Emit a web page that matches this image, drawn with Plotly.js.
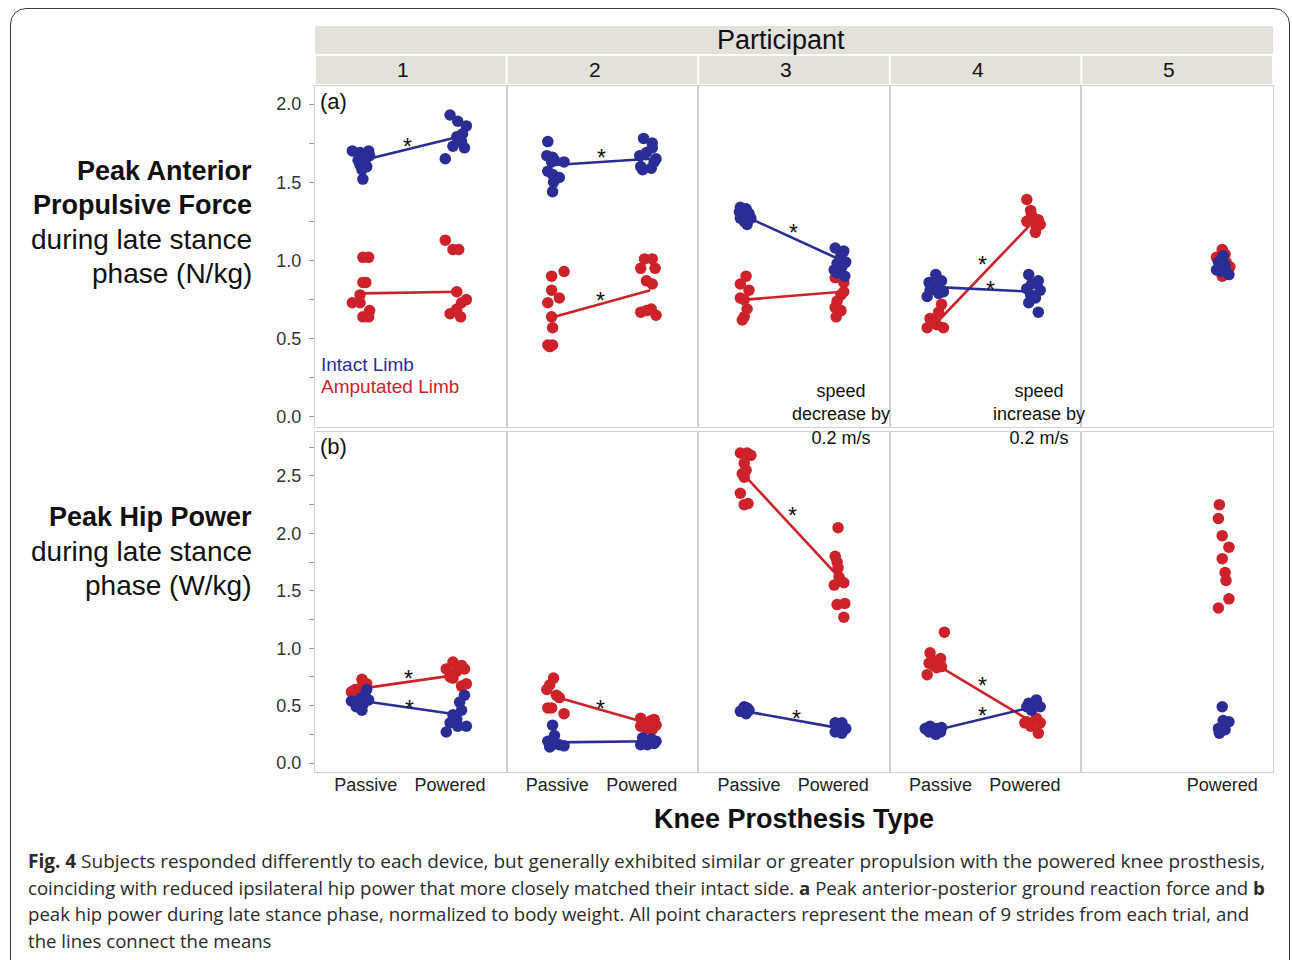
<!DOCTYPE html>
<html>
<head>
<meta charset="utf-8">
<script src="https://cdn.plot.ly/plotly-3.0.1.min.js"></script>
<style>
  html, body { margin: 0; padding: 0; background: #ffffff; }
  #wrap { position: relative; width: 1292px; height: 960px; overflow: hidden; }
  #chart { position: absolute; left: 0; top: 0; width: 1292px; height: 960px; }
  #frame { position: absolute; left: 10px; top: 8px; width: 1280px; height: 1000px;
           border: 1.5px solid #3a3a3a; border-radius: 16px; pointer-events: none; box-sizing: border-box; }
</style>
</head>
<body>
<div id="wrap">
  <div id="chart"></div>
  <div id="frame"></div>
</div>
<script>
// ---------------- DATA ----------------
const participants = ['1', '2', '3', '4', '5'];
const conditions = ['Passive', 'Powered'];

// (a) Peak anterior propulsive force (N/kg), one value per trial, per participant
const forceIntactPassive = [
  [1.70, 1.69, 1.70, 1.67, 1.67, 1.64, 1.63, 1.61, 1.60, 1.58, 1.52],
  [1.76, 1.67, 1.66, 1.64, 1.63, 1.63, 1.57, 1.55, 1.53, 1.50, 1.44],
  [1.34, 1.33, 1.31, 1.30, 1.28, 1.27, 1.25, 1.23, 1.27],
  [0.91, 0.86, 0.87, 0.84, 0.81, 0.80, 0.77, 0.79],
  []
];
const forceIntactPowered = [
  [1.93, 1.89, 1.86, 1.81, 1.79, 1.76, 1.73, 1.72, 1.65],
  [1.78, 1.75, 1.72, 1.69, 1.67, 1.65, 1.63, 1.60, 1.59, 1.58],
  [1.08, 1.06, 1.03, 0.99, 0.98, 0.96, 0.94, 0.92, 0.90],
  [0.91, 0.87, 0.85, 0.82, 0.81, 0.78, 0.76, 0.73, 0.67],
  [1.03, 0.99, 0.97, 0.94, 0.93, 0.91, 0.94, 0.98]
];
const forceAmpPassive = [
  [1.02, 1.02, 0.86, 0.86, 0.78, 0.73, 0.73, 0.68, 0.64, 0.64],
  [0.93, 0.90, 0.81, 0.76, 0.73, 0.64, 0.57, 0.46, 0.46, 0.45],
  [0.90, 0.85, 0.81, 0.76, 0.75, 0.69, 0.64, 0.62],
  [0.72, 0.67, 0.63, 0.61, 0.57, 0.57, 0.59, 0.60],
  []
];
const forceAmpPowered = [
  [1.13, 1.07, 1.07, 0.75, 0.73, 0.69, 0.66, 0.64, 0.80],
  [1.01, 1.01, 0.95, 0.95, 0.87, 0.85, 0.67, 0.69, 0.65, 0.68],
  [0.89, 0.86, 0.80, 0.78, 0.74, 0.70, 0.68, 0.64],
  [1.39, 1.32, 1.29, 1.26, 1.25, 1.21, 1.18, 1.23],
  [1.07, 1.04, 1.02, 0.99, 0.96, 0.94, 0.92, 0.90]
];
// means connected by lines [Passive, Powered]
const forceMeanIntact = [[1.64, 1.79], [1.61, 1.65], [1.28, 1.00], [0.83, 0.80], null];
const forceMeanAmp    = [[0.79, 0.80], [0.64, 0.81], [0.75, 0.80], [0.61, 1.25], null];

// (b) Peak hip power (W/kg)
const hipIntactPassive = [
  [0.64, 0.54, 0.56, 0.51, 0.55, 0.46, 0.49, 0.59],
  [0.33, 0.24, 0.19, 0.16, 0.16, 0.15, 0.14],
  [0.49, 0.46, 0.45, 0.43, 0.48, 0.46],
  [0.32, 0.30, 0.27, 0.25, 0.27, 0.30, 0.31],
  []
];
const hipIntactPowered = [
  [0.59, 0.53, 0.46, 0.42, 0.38, 0.35, 0.32, 0.32, 0.27],
  [0.22, 0.21, 0.19, 0.16, 0.16, 0.17],
  [0.35, 0.35, 0.30, 0.30, 0.27, 0.26],
  [0.55, 0.52, 0.49, 0.46, 0.49, 0.51],
  [0.49, 0.37, 0.36, 0.30, 0.29, 0.26, 0.28]
];
const hipAmpPassive = [
  [0.73, 0.64, 0.68, 0.65, 0.69, 0.62, 0.62],
  [0.74, 0.68, 0.64, 0.59, 0.57, 0.48, 0.48, 0.43],
  [2.70, 2.70, 2.68, 2.61, 2.55, 2.52, 2.49, 2.35, 2.25, 2.26],
  [1.14, 0.96, 0.91, 0.87, 0.85, 0.83, 0.77, 0.84, 0.90],
  []
];
const hipAmpPowered = [
  [0.88, 0.85, 0.82, 0.82, 0.80, 0.74, 0.69, 0.67, 0.75],
  [0.39, 0.37, 0.33, 0.35, 0.30, 0.29, 0.32, 0.38],
  [2.05, 1.80, 1.75, 1.70, 1.62, 1.55, 1.57, 1.38, 1.39, 1.27],
  [0.36, 0.39, 0.33, 0.32, 0.26, 0.35, 0.35],
  [2.25, 2.13, 1.98, 1.88, 1.78, 1.66, 1.59, 1.43, 1.35]
];
const hipMeanIntact = [[0.54, 0.42], [0.18, 0.19], [0.45, 0.30], [0.29, 0.49], null];
const hipMeanAmp    = [[0.65, 0.77], [0.58, 0.34], [2.49, 1.59], [0.85, 0.35], null];

// horizontal jitter of each point (category units)
const jitForceIntactPassive = [
  [-0.11, -0.03, 0.06, 0.00, 0.07, -0.05, 0.02, -0.03, 0.04, -0.01, 0.00],
  [-0.07, -0.08, -0.02, 0.00, -0.03, 0.10, -0.07, -0.02, 0.05, -0.01, -0.02],
  [-0.06, 0.00, -0.07, 0.03, -0.04, 0.05, -0.02, 0.01, -0.06],
  [-0.02, -0.09, 0.04, -0.01, -0.08, 0.06, -0.11, 0.01],
  []
];
const jitForceIntactPowered = [
  [-0.09, -0.01, 0.08, 0.04, -0.02, 0.03, -0.06, 0.06, -0.14],
  [-0.07, 0.02, 0.02, -0.04, -0.11, 0.06, 0.04, -0.10, 0.01, -0.08],
  [-0.07, 0.02, -0.01, 0.04, -0.05, 0.00, -0.08, -0.05, 0.03],
  [-0.05, 0.05, -0.02, -0.07, 0.07, -0.03, 0.02, -0.05, 0.05],
  [-0.02, -0.07, 0.00, -0.09, -0.04, 0.04, 0.00, -0.05]
];
const jitForceAmpPassive = [
  [0.00, 0.06, 0.00, 0.03, -0.03, -0.11, -0.03, 0.07, 0.00, 0.06],
  [0.10, -0.03, -0.03, 0.05, -0.07, -0.03, -0.02, -0.07, -0.02, -0.05],
  [0.00, -0.06, 0.03, -0.06, -0.02, 0.01, -0.02, -0.04],
  [0.04, 0.01, -0.08, -0.04, -0.11, 0.06, -0.01, -0.06],
  []
];
const jitForceAmpPowered = [
  [-0.14, -0.06, 0.00, 0.08, 0.03, -0.02, -0.09, 0.02, -0.02],
  [-0.06, 0.02, -0.10, 0.05, -0.04, 0.02, -0.10, 0.01, 0.06, -0.04],
  [-0.07, 0.02, 0.02, -0.01, -0.05, -0.07, -0.01, -0.06],
  [-0.07, -0.03, -0.02, 0.05, -0.07, 0.03, 0.02, 0.07],
  [-0.03, 0.00, -0.09, 0.01, 0.05, -0.06, 0.03, -0.03]
];
const jitHipIntactPassive = [
  [0.04, -0.12, -0.03, 0.00, 0.06, -0.01, -0.07, 0.02],
  [-0.02, 0.00, -0.07, -0.02, 0.05, 0.10, -0.05],
  [-0.02, 0.03, -0.06, 0.00, 0.01, -0.04],
  [-0.08, -0.01, -0.09, -0.02, 0.03, -0.13, 0.04],
  []
];
const jitHipIntactPowered = [
  [0.06, 0.01, 0.03, -0.06, -0.02, -0.09, 0.08, -0.01, -0.13],
  [-0.08, 0.01, 0.06, -0.10, -0.03, 0.04],
  [-0.07, 0.00, -0.03, 0.04, -0.07, 0.00],
  [0.03, -0.05, 0.07, -0.02, -0.07, 0.02],
  [-0.03, -0.02, 0.04, -0.07, 0.00, -0.06, -0.04]
];
const jitHipAmpPassive = [
  [-0.01, -0.08, 0.00, -0.03, 0.04, -0.12, 0.02],
  [-0.01, -0.05, -0.08, 0.02, 0.05, -0.07, -0.03, 0.10],
  [-0.06, 0.01, 0.05, -0.02, 0.00, -0.04, -0.02, -0.06, -0.02, 0.02],
  [0.07, -0.08, 0.03, -0.09, -0.04, -0.01, -0.11, 0.04, -0.06],
  []
];
const jitHipAmpPowered = [
  [-0.06, 0.03, -0.13, 0.06, -0.02, -0.06, 0.08, 0.03, -0.09],
  [-0.10, 0.01, 0.06, -0.06, -0.03, 0.02, -0.10, 0.04],
  [-0.04, -0.07, -0.05, -0.04, -0.03, -0.08, 0.02, -0.05, 0.03, 0.02],
  [-0.07, 0.03, -0.02, -0.03, 0.05, 0.07, -0.09],
  [-0.06, -0.07, -0.03, 0.04, -0.03, 0.00, 0.01, 0.04, -0.07]
];

// significance asterisks: [participant index, limb, x (category units), y value]
const forceStars = [[0, 'intact', 0.47, 1.757], [1, 'intact', 0.49, 1.687], [1, 'amp', 0.48, 0.773],
                    [2, 'intact', 0.49, 1.208], [3, 'amp', 0.47, 1.003], [3, 'intact', 0.55, 0.843]];
const hipStars = [[0, 'amp', 0.48, 0.775], [0, 'intact', 0.49, 0.514], [1, 'amp', 0.48, 0.514],
                  [2, 'amp', 0.48, 2.195], [2, 'intact', 0.53, 0.427], [3, 'amp', 0.47, 0.714], [3, 'intact', 0.47, 0.453]];

// ---------------- STYLE / LAYOUT ----------------
const BLUE = '#2b2d96';
const RED = '#cd2229';
const FONT = 'Liberation Sans, Arial, sans-serif';
const W = 1292, H = 960;
const px = v => v / W;
const py = v => 1 - v / H;
const colLeft = 315, colW = 191.6;
const rows = [{top: 86, bottom: 427, range: [-0.064, 2.115]}, {top: 432, bottom: 772, range: [-0.078, 2.883]}];

const traces = [];
function axId(row, c) { return row * 5 + c + 1; }

function addPanel(row, sets) {
  for (let c = 0; c < 5; c++) {
    const id = axId(row, c);
    const xa = id === 1 ? 'x' : 'x' + id;
    const ya = id === 1 ? 'y' : 'y' + id;
    sets.forEach(s => {
      const xs = [], ys = [];
      s.pas[c].forEach((v, i) => { xs.push(0 + s.jp[c][i]); ys.push(v); });
      s.pow[c].forEach((v, i) => { xs.push(1 + s.jw[c][i]); ys.push(v); });
      traces.push({type: 'scatter', mode: 'markers', x: xs, y: ys, xaxis: xa, yaxis: ya,
        marker: {color: s.color, size: 11.5, line: {width: 0}}, hoverinfo: 'skip', showlegend: false});
      if (s.mean[c]) {
        traces.push({type: 'scatter', mode: 'lines', x: [0, 1], y: s.mean[c], xaxis: xa, yaxis: ya,
          line: {color: s.color, width: 2.6}, hoverinfo: 'skip', showlegend: false});
      }
    });
  }
}

addPanel(0, [
  {pas: forceAmpPassive, pow: forceAmpPowered, jp: jitForceAmpPassive, jw: jitForceAmpPowered, mean: forceMeanAmp, color: RED},
  {pas: forceIntactPassive, pow: forceIntactPowered, jp: jitForceIntactPassive, jw: jitForceIntactPowered, mean: forceMeanIntact, color: BLUE}
]);
addPanel(1, [
  {pas: hipAmpPassive, pow: hipAmpPowered, jp: jitHipAmpPassive, jw: jitHipAmpPowered, mean: hipMeanAmp, color: RED},
  {pas: hipIntactPassive, pow: hipIntactPowered, jp: jitHipIntactPassive, jw: jitHipIntactPowered, mean: hipMeanIntact, color: BLUE}
]);

const layout = {
  width: W, height: H,
  margin: {l: 0, r: 0, t: 0, b: 0},
  paper_bgcolor: '#ffffff', plot_bgcolor: '#ffffff',
  font: {family: FONT, color: '#222'},
  showlegend: false,
  shapes: [], annotations: []
};

for (let row = 0; row < 2; row++) {
  for (let c = 0; c < 5; c++) {
    const id = axId(row, c);
    const xk = id === 1 ? 'xaxis' : 'xaxis' + id;
    const yk = id === 1 ? 'yaxis' : 'yaxis' + id;
    const ya = id === 1 ? 'y' : 'y' + id;
    const xa = id === 1 ? 'x' : 'x' + id;
    const x0 = colLeft + colW * c, x1 = colLeft + colW * (c + 1);
    layout[xk] = {
      domain: [px(x0), px(x1)], range: [-0.5, 1.5], anchor: ya,
      showline: true, mirror: true, linecolor: '#d0d0d0', linewidth: 1,
      showgrid: false, zeroline: false, fixedrange: true, ticks: '', ticklen: 0
    };
    if (row === 1) {
      layout[xk].tickvals = c < 4 ? [0.03, 0.91] : [0.97];
      layout[xk].ticktext = c < 4 ? conditions : [conditions[1]];
      layout[xk].tickfont = {size: 18, color: '#222', family: FONT};
      layout[xk].ticklabelstandoff = -4;
    } else {
      layout[xk].showticklabels = false;
    }
    layout[yk] = {
      domain: [py(rows[row].bottom), py(rows[row].top)], range: rows[row].range, anchor: xa,
      showline: true, mirror: true, linecolor: '#d0d0d0', linewidth: 1,
      showgrid: false, zeroline: false, fixedrange: true
    };
    if (c === 0) {
      Object.assign(layout[yk], {
        ticks: 'outside', ticklen: 5, tickcolor: '#9a9a9a', tickwidth: 1,
        dtick: 0.5, tick0: 0, tickformat: '.1f', ticklabelstandoff: 4,
        tickfont: {size: 18, color: '#333', family: FONT},
        minor: {dtick: 0.25, tick0: 0, ticks: 'outside', ticklen: 5, tickcolor: '#9a9a9a', tickwidth: 1}
      });
    } else {
      layout[yk].showticklabels = false;
      layout[yk].ticks = '';
    }
  }
}

// strip headers
const STRIP = '#e2e2da';
layout.shapes.push({type: 'rect', xref: 'paper', yref: 'paper', x0: px(315), x1: px(1273), y0: py(54), y1: py(26),
  fillcolor: STRIP, line: {width: 0}, layer: 'below'});
for (let c = 0; c < 5; c++) {
  const x0 = colLeft + colW * c, x1 = colLeft + colW * (c + 1);
  layout.shapes.push({type: 'rect', xref: 'paper', yref: 'paper', x0: px(x0 + 1), x1: px(x1 - 1), y0: py(84), y1: py(56),
    fillcolor: STRIP, line: {width: 0}, layer: 'below'});
  layout.annotations.push({xref: 'paper', yref: 'paper', x: px(x0 + 88), y: py(70), text: participants[c],
    showarrow: false, font: {size: 21, color: '#111', family: FONT}, xanchor: 'center', yanchor: 'middle'});
}
layout.annotations.push({xref: 'paper', yref: 'paper', x: px(781), y: py(40), text: 'Participant',
  showarrow: false, font: {size: 27, color: '#111', family: FONT}, xanchor: 'center', yanchor: 'middle'});

// y-axis titles (one annotation per line)
const titleA = [['<b>Peak Anterior</b>', 171, 27], ['<b>Propulsive Force</b>', 205, 27], ['during late stance', 239, 28], ['phase (N/kg)', 273, 28]];
const titleB = [['<b>Peak Hip Power</b>', 517, 27], ['during late stance', 551, 28], ['phase (W/kg)', 585, 28]];
titleA.concat(titleB).forEach(t => {
  layout.annotations.push({xref: 'paper', yref: 'paper', x: px(254), y: py(t[1]), xanchor: 'right', yanchor: 'middle', align: 'right',
    text: t[0], showarrow: false, font: {size: t[2], color: '#111', family: FONT}});
});
// x-axis title
layout.annotations.push({xref: 'paper', yref: 'paper', x: px(794), y: py(819), xanchor: 'center', yanchor: 'middle',
  text: '<b>Knee Prosthesis Type</b>', showarrow: false, font: {size: 27, color: '#111', family: FONT}});

// panel tags
layout.annotations.push({xref: 'paper', yref: 'paper', x: px(318), y: py(101), xanchor: 'left', yanchor: 'middle',
  text: '(a)', showarrow: false, font: {size: 22, color: '#111', family: FONT}});
layout.annotations.push({xref: 'paper', yref: 'paper', x: px(318), y: py(446), xanchor: 'left', yanchor: 'middle',
  text: '(b)', showarrow: false, font: {size: 22, color: '#111', family: FONT}});
// in-plot legend text
layout.annotations.push({xref: 'paper', yref: 'paper', x: px(319), y: py(364), xanchor: 'left', yanchor: 'middle',
  text: 'Intact Limb', showarrow: false, font: {size: 19, color: BLUE, family: FONT}});
layout.annotations.push({xref: 'paper', yref: 'paper', x: px(319), y: py(387), xanchor: 'left', yanchor: 'middle',
  text: 'Amputated Limb', showarrow: false, font: {size: 19, color: RED, family: FONT}});
// speed notes
layout.annotations.push({xref: 'paper', yref: 'paper', x: px(841), y: py(414), xanchor: 'center', yanchor: 'middle', align: 'center',
  text: 'speed<br>decrease by<br>0.2 m/s', showarrow: false, font: {size: 18, color: '#111', family: FONT}});
layout.annotations.push({xref: 'paper', yref: 'paper', x: px(1039), y: py(414), xanchor: 'center', yanchor: 'middle', align: 'center',
  text: 'speed<br>increase by<br>0.2 m/s', showarrow: false, font: {size: 18, color: '#111', family: FONT}});

// asterisks
function addStars(row, stars) {
  stars.forEach(s => {
    const id = axId(row, s[0]);
    layout.annotations.push({xref: id === 1 ? 'x' : 'x' + id, yref: id === 1 ? 'y' : 'y' + id,
      x: s[2], y: s[3], text: '*', showarrow: false, yshift: -5,
      font: {size: 23, color: '#111', family: FONT}, xanchor: 'center', yanchor: 'middle'});
  });
}
addStars(0, forceStars);
addStars(1, hipStars);

// caption
const CAP = 'Open Sans, Noto Sans, sans-serif';
const captionLines = [
  '<b>Fig. 4</b> Subjects responded differently to each device, but generally exhibited similar or greater propulsion with the powered knee prosthesis,',
  'coinciding with reduced ipsilateral hip power that more closely matched their intact side. <b>a</b> Peak anterior-posterior ground reaction force and <b>b</b>',
  'peak hip power during late stance phase, normalized to body weight. All point characters represent the mean of 9 strides from each trial, and',
  'the lines connect the means'
];
const capY = [861, 887, 913, 940];
const capSize = [19, 18.6, 18.6, 18.6];
captionLines.forEach((t, i) => {
  layout.annotations.push({xref: 'paper', yref: 'paper', x: px(26), y: py(capY[i]), xanchor: 'left', yanchor: 'middle', align: 'left',
    text: t, showarrow: false, font: {size: capSize[i], color: '#2a2a2a', family: CAP}});
});

Plotly.newPlot('chart', traces, layout, {displayModeBar: false, staticPlot: true});
</script>
</body>
</html>
